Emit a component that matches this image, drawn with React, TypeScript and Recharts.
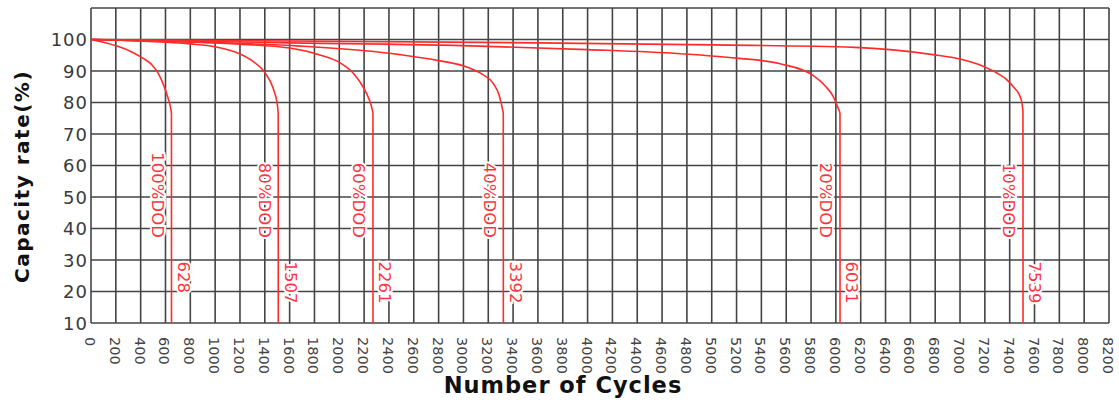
import {
  LineChart,
  Line,
  XAxis,
  YAxis,
  CartesianGrid,
  ReferenceDot,
} from 'recharts'

// capacity (%) vs. cycle count
const dod100 = [
  { c: 0, v: 100 }, { c: 200, v: 98 }, { c: 320, v: 96.2 }, { c: 420, v: 94 },
  { c: 490, v: 92 }, { c: 545, v: 89 }, { c: 590, v: 85 }, { c: 620, v: 81.5 },
  { c: 640, v: 78.5 }, { c: 648, v: 76.5 }, { c: 648.5, v: 10 },
]
const dod80 = [
  { c: 0, v: 100 }, { c: 400, v: 99.5 }, { c: 800, v: 98.6 }, { c: 1000, v: 97.7 },
  { c: 1200, v: 95.4 }, { c: 1300, v: 93.2 }, { c: 1385, v: 90.3 }, { c: 1440, v: 87 },
  { c: 1480, v: 83 }, { c: 1500, v: 79.5 }, { c: 1508, v: 76.5 }, { c: 1508.5, v: 10 },
]
const dod60 = [
  { c: 0, v: 100 }, { c: 800, v: 99.2 }, { c: 1200, v: 98.5 }, { c: 1600, v: 97.3 },
  { c: 1850, v: 95 }, { c: 2006, v: 92.6 }, { c: 2120, v: 89 }, { c: 2191, v: 85 },
  { c: 2240, v: 81 }, { c: 2264, v: 78 }, { c: 2271, v: 76.5 }, { c: 2271.5, v: 10 },
]
const dod40 = [
  { c: 0, v: 100 }, { c: 1000, v: 99 }, { c: 1683, v: 97.9 }, { c: 2489, v: 95.2 },
  { c: 2800, v: 93.3 }, { c: 3026, v: 91.3 }, { c: 3150, v: 89 }, { c: 3241, v: 86 },
  { c: 3290, v: 82 }, { c: 3314, v: 78 }, { c: 3321, v: 76.5 }, { c: 3321.5, v: 10 },
]
const dod20 = [
  { c: 0, v: 100 }, { c: 1500, v: 99 }, { c: 3133, v: 97.9 }, { c: 4000, v: 96.8 },
  { c: 4744, v: 95.5 }, { c: 5200, v: 94.1 }, { c: 5550, v: 92.3 }, { c: 5816, v: 88.6 },
  { c: 5920, v: 85 }, { c: 5977, v: 82 }, { c: 6020, v: 78 }, { c: 6033, v: 76.5 },
  { c: 6033.5, v: 10 },
]
const dod10 = [
  { c: 0, v: 100 }, { c: 3133, v: 99.1 }, { c: 5000, v: 98.3 }, { c: 6150, v: 97.5 },
  { c: 6782, v: 95.2 }, { c: 7000, v: 93.8 }, { c: 7185, v: 91.5 }, { c: 7300, v: 89.3 },
  { c: 7378, v: 87.2 }, { c: 7440, v: 84.5 }, { c: 7483, v: 82 }, { c: 7500, v: 79.5 },
  { c: 7507, v: 77 }, { c: 7507.5, v: 10 },
]

const series = [dod100, dod80, dod60, dod40, dod20, dod10]
const dodLabels = ['100%DOD', '80%DOD', '60%DOD', '40%DOD', '20%DOD', '10%DOD']
const cycleLabels = ['628', '1507', '2261', '3392', '6031', '7539']
const dropCycles = [648, 1508, 2271, 3321, 6033, 7507]

const xTicks = Array.from({ length: 42 }, (_, i) => i * 200)
const yTicks = [10, 20, 30, 40, 50, 60, 70, 80, 90, 100, 110]

const RED = '#ff2b2b'
const TEXT_RED = '#ff3340'

// rotated tick labels under the x axis
const XTick = (props: any) => {
  const { x, y, payload } = props
  return (
    <text
      transform={`translate(${x - 1},${y + 6}) rotate(90)`}
      textAnchor="start"
      dominantBaseline="central"
      fontFamily="DejaVu Sans"
      fontSize={14.5}
      fill="#444"
    >
      {payload.value}
    </text>
  )
}

const YTick = (props: any) => {
  const { x, y, payload } = props
  if (payload.value > 100) return null
  return (
    <text
      x={x}
      y={y}
      textAnchor="end"
      dominantBaseline="central"
      fontFamily="DejaVu Sans"
      fontSize={18}
      letterSpacing={1}
      fill="#3a3a3a"
    >
      {payload.value}
    </text>
  )
}

// vertical red text next to the drop line
const sideLabel = (text: string, dx: number, anchor: 'start' | 'end') => (p: any) => {
  const { cx, cy } = p
  if (cx == null || cy == null) return null
  return (
    <text
      transform={`translate(${cx + dx},${cy}) rotate(90)`}
      textAnchor={anchor}
      dominantBaseline="central"
      fontFamily="DejaVu Sans"
      fontSize={16.5}
      fill={TEXT_RED}
      stroke="#fff"
      strokeWidth={4}
      paintOrder="stroke"
    >
      {text}
    </text>
  )
}

export default function App() {
  return (
    <div style={{ position: 'absolute', left: 0, top: 0 }}>
      <LineChart
        width={1119}
        height={404}
        margin={{ top: 8, right: 10, bottom: 0, left: 0 }}
      >
        <CartesianGrid stroke="#444" strokeWidth={1.6} />
        <XAxis
          type="number"
          dataKey="c"
          domain={[0, 8200]}
          ticks={xTicks}
          interval={0}
          height={81}
          tickLine={false}
          axisLine={false}
          tick={<XTick />}
          label={{
            content: (p: any) => {
              const vb = p.viewBox
              return (
                <text
                  x={vb.x + vb.width / 2 - 37}
                  y={vb.y + 62}
                  textAnchor="middle"
                  dominantBaseline="central"
                  fontFamily="DejaVu Sans"
                  fontWeight="bold"
                  fontSize={22.5}
                  letterSpacing={1}
                  fill="#111"
                >
                  Number of Cycles
                </text>
              )
            },
          }}
        />
        <YAxis
          type="number"
          domain={[10, 110]}
          ticks={yTicks}
          interval={0}
          width={91}
          tickLine={false}
          axisLine={false}
          tickSize={0}
          tickMargin={3}
          tick={<YTick />}
          label={{
            content: (p: any) => {
              const vb = p.viewBox
              return (
                <text
                  transform={`translate(${vb.x + 22},${vb.y + vb.height / 2 + 11}) rotate(-90)`}
                  textAnchor="middle"
                  dominantBaseline="central"
                  fontFamily="DejaVu Sans"
                  fontWeight="bold"
                  fontSize={20}
                  letterSpacing={1.5}
                  fill="#111"
                >
                  Capacity rate(%)
                </text>
              )
            },
          }}
        />
        {series.map((d, i) => (
          <Line
            key={dodLabels[i]}
            data={d}
            dataKey="v"
            type="monotone"
            stroke={RED}
            strokeWidth={1.6}
            dot={false}
            activeDot={false}
            isAnimationActive={false}
          />
        ))}
        {dropCycles.map((c, i) => (
          <ReferenceDot
            key={'d' + i}
            x={c}
            y={37}
            r={0}
            shape={sideLabel(dodLabels[i], -14, 'end')}
          />
        ))}
        {dropCycles.map((c, i) => (
          <ReferenceDot
            key={'n' + i}
            x={c}
            y={29.5}
            r={0}
            shape={sideLabel(cycleLabels[i], 12, 'start')}
          />
        ))}
      </LineChart>
    </div>
  )
}
